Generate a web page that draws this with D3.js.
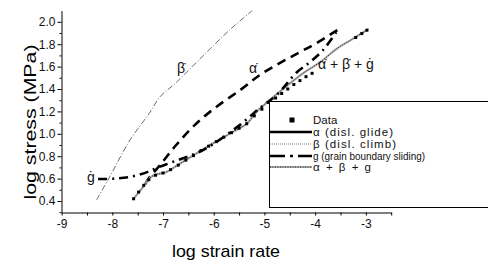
<!DOCTYPE html>
<html><head><meta charset="utf-8">
<script src="https://cdn.jsdelivr.net/npm/d3@7"></script>
<style>body{margin:0;background:#fff}svg{display:block}text{font-family:"Liberation Sans",Arial,sans-serif}</style>
</head><body>
<svg id="c" width="488" height="264"></svg>
<script>
// ---- data ----
const xTicks = [-9,-8,-7,-6,-5,-4,-3];
const yTicks = [0.4,0.6,0.8,1.0,1.2,1.4,1.6,1.8,2.0];
const alphaX = [-7.35,-7.30,-7.06,-6.74,-6.37,-5.95,-5.48,-5.09,-4.70,-4.30,-3.97,-3.55];
const alphaY = [0.55,0.59,0.72,0.90,1.08,1.24,1.39,1.525,1.63,1.73,1.81,1.93];
const betaX = [-8.31,-8.05,-7.65,-7.26,-7.06,-6.76,-6.27,-5.68,-5.24];
const betaY = [0.41,0.617,0.945,1.19,1.33,1.45,1.67,1.93,2.10];
const gX = [-8.28,-7.95,-7.60,-7.30,-7.10,-6.80,-6.21,-5.54,-5.09,-4.75,-4.36,-4.10,-3.84,-3.55];
const gY = [0.596,0.60,0.62,0.66,0.70,0.75,0.855,1.06,1.23,1.35,1.55,1.64,1.75,1.93];
const sumX = [-7.59,-7.42,-7.22,-6.93,-6.66,-6.34,-6.01,-5.61,-5.35,-5.15,-4.95,-4.69,-4.24,-3.90,-3.57,-3.25,-2.95];
const sumY = [0.415,0.51,0.62,0.66,0.735,0.825,0.915,1.02,1.09,1.20,1.28,1.38,1.54,1.64,1.76,1.85,1.935];
const dataX = [-7.58,-7.48,-7.38,-7.28,-7.15,-7.0,-6.85,-6.7,-6.55,-6.4,-6.25,-6.1,-5.95,-5.8,-5.65,-5.5,-5.35,-5.2,-5.05,-4.9,-4.78,-4.66,-4.54,-4.42,-4.30,-4.18,-4.06,-3.2,-3.08,-2.98];
const dataY = [0.42,0.48,0.54,0.59,0.63,0.65,0.68,0.72,0.765,0.805,0.85,0.89,0.93,0.97,1.01,1.05,1.09,1.16,1.22,1.28,1.32,1.36,1.40,1.44,1.475,1.51,1.54,1.86,1.895,1.925];
const legendLabels = ["Data","\u03B1 (disl. glide)","\u03B2 (disl. climb)","g (grain boundary sliding)","\u03B1 + \u03B2 + g"];

// ---- chart ----
const svg = d3.select("#c");
const x = d3.scaleLinear([-9,-2.5],[61.6,391.2]);
const y = d3.scaleLinear([0.3,2.1],[212.2,10.6]);
const fmtX = d => Number.isInteger(d) ? String(d) : "";

// axes
const gx = svg.append("g").attr("transform","translate(0,212.5)")
  .call(d3.axisBottom(x).tickValues(d3.range(-9,-2.49,0.5)).tickSize(3).tickSizeOuter(0).tickPadding(4).tickFormat(fmtX));
const gy = svg.append("g").attr("transform","translate(61.5,0)")
  .call(d3.axisLeft(y).tickValues(d3.range(3,21).map(v=>v/10)).tickSize(2).tickSizeOuter(0).tickPadding(4)
   .tickFormat(d => yTicks.some(t=>Math.abs(t-d)<1e-9) ? d.toFixed(1) : ""));
gy.selectAll(".tick").filter(d => yTicks.some(t=>Math.abs(t-d)<1e-9)).select("line").attr("x2",-4);
[gx,gy].forEach(g=>{
  g.select(".domain").attr("stroke","#000");
  g.selectAll(".tick line").attr("stroke","#000");
  g.selectAll(".tick text").attr("font-size",12).attr("fill","#111").attr("font-family","Liberation Sans, Arial, sans-serif");
});

svg.append("text").attr("x",226).attr("y",257).attr("text-anchor","middle").attr("font-size",17)
  .attr("textLength",108).attr("lengthAdjust","spacingAndGlyphs").text("log strain rate");
svg.append("text").attr("transform","translate(36,122) rotate(-90)").attr("text-anchor","middle").attr("font-size",17)
  .attr("textLength",155).attr("lengthAdjust","spacingAndGlyphs").text("log stress (MPa)");

const line = d3.line().x(d=>x(d[0])).y(d=>y(d[1])).curve(d3.curveCatmullRom);
const zip = (a,b)=>a.map((v,i)=>[v,b[i]]);

// beta
svg.append("path").attr("d",line(zip(betaX,betaY))).attr("fill","none").attr("stroke","#444")
  .attr("stroke-width",0.8).attr("stroke-dasharray","6,2,1,2");
// alpha
svg.append("path").attr("d",line(zip(alphaX,alphaY))).attr("fill","none").attr("stroke","#000")
  .attr("stroke-width",2.6).attr("stroke-dasharray","9,6");
// sum
const sp = line(zip(sumX,sumY));
svg.append("path").attr("d",sp).attr("fill","none").attr("stroke","#aaa").attr("stroke-width",2.2);
svg.append("path").attr("d",sp).attr("fill","none").attr("stroke","#222").attr("stroke-width",1).attr("stroke-dasharray","1,1.5");
// g
svg.append("path").attr("d",line(zip(gX,gY))).attr("fill","none").attr("stroke","#000")
  .attr("stroke-width",2.6).attr("stroke-dasharray","9,5,2,5");
// data squares
svg.append("g").selectAll("rect").data(zip(dataX,dataY)).join("rect")
  .attr("x",d=>x(d[0])-1.5).attr("y",d=>y(d[1])-1.5).attr("width",3).attr("height",3).attr("fill","#000");

// annotations
const ann = [["\u03B2\u0307",177,73],["\u03B1\u0307",249,73],["\u0121",87,182],["\u03B1\u0307 + \u03B2\u0307 + \u0121",318,69]];
svg.append("g").selectAll("text").data(ann).join("text")
  .attr("x",d=>d[1]).attr("y",d=>d[2]).attr("font-size",14).attr("fill","#111")
  .attr("font-family","DejaVu Serif, Liberation Serif, serif").text(d=>d[0]);

// legend
const L = svg.append("g");
L.append("rect").attr("x",269.5).attr("y",101.5).attr("width",230).attr("height",106).attr("fill","#fff").attr("stroke","#000");
const ly = [120,132,144,156,167];
const lw = [null,80,83,112,58];
L.append("rect").attr("x",289.5).attr("y",ly[0]-2.5).attr("width",5).attr("height",5).attr("fill","#000");
L.append("line").attr("x1",270).attr("x2",312).attr("y1",ly[1]).attr("y2",ly[1]).attr("stroke","#000").attr("stroke-width",2.6);
L.append("line").attr("x1",270).attr("x2",312).attr("y1",ly[2]).attr("y2",ly[2]).attr("stroke","#555").attr("stroke-width",0.8).attr("stroke-dasharray","1,1");
L.append("line").attr("x1",270).attr("x2",312).attr("y1",ly[3]).attr("y2",ly[3]).attr("stroke","#000").attr("stroke-width",2.6).attr("stroke-dasharray","15,5,3,5");
L.append("line").attr("x1",270).attr("x2",312).attr("y1",ly[4]).attr("y2",ly[4]).attr("stroke","#aaa").attr("stroke-width",2.2);
L.append("line").attr("x1",270).attr("x2",312).attr("y1",ly[4]).attr("y2",ly[4]).attr("stroke","#222").attr("stroke-width",1).attr("stroke-dasharray","1,1.5");
L.selectAll("text").data(legendLabels).join("text")
  .attr("x",313).attr("y",(d,i)=>ly[i]+4).attr("font-size",11.5).attr("fill","#111")
  .each(function(d,i){ if(lw[i]) d3.select(this).attr("textLength",lw[i]).attr("lengthAdjust", i===3 ? "spacingAndGlyphs" : "spacing"); })
  .text(d=>d);
</script>
</body></html>
